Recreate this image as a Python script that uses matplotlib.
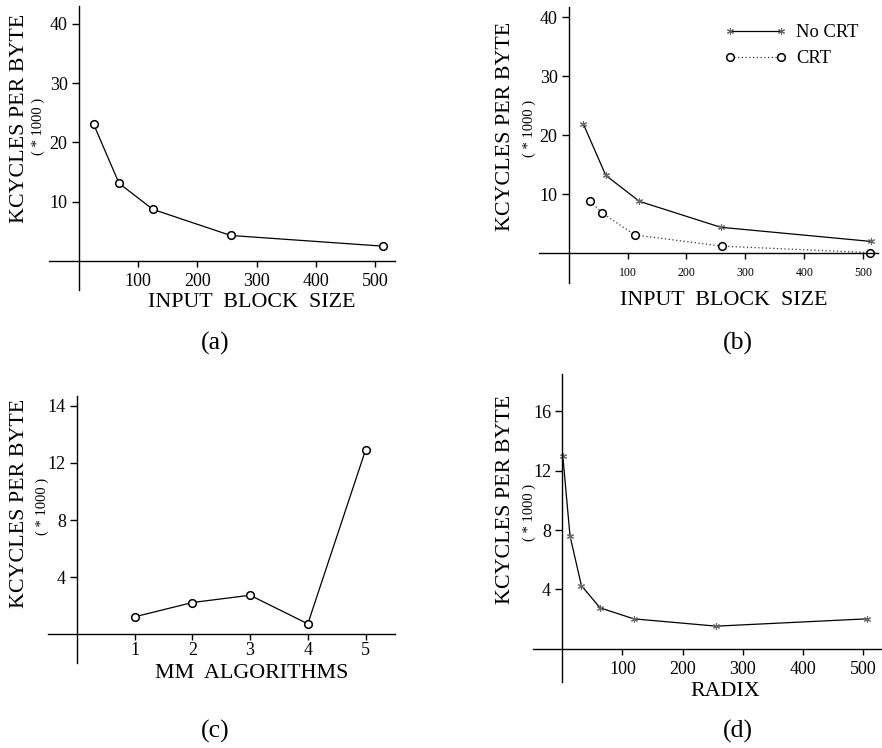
import matplotlib
matplotlib.use("Agg")
import matplotlib.pyplot as plt

plt.rcParams["font.family"] = ["Liberation Serif", "DejaVu Serif"]

W, H = 882, 748

# (a) input block size vs kcycles/byte
a_x = [25, 68, 125, 256, 512]
a_y = [23.1, 13.1, 8.7, 4.3, 2.5]

# (b) no CRT vs CRT
b_x_nocrt = [25, 63, 120, 258, 513]
b_y_nocrt = [21.9, 13.2, 8.8, 4.4, 2.0]
b_x_crt = [37, 56, 112, 260, 511]
b_y_crt = [8.8, 6.9, 3.1, 1.2, 0.1]

# (c) MM algorithms
c_x = [1, 2, 3, 4, 5]
c_y = [1.23, 2.23, 2.74, 0.74, 12.9]

# (d) radix
d_x = [1, 13, 32, 63, 119, 256, 506]
d_y = [13.0, 7.6, 4.25, 2.76, 2.02, 1.53, 2.02]

TICK_FS = 13
LABEL_FS = 15.8
SMALL_FS = 10.5
PANEL_FS = 18.5
STAR = (6, 2, 0)
STAR_COLOR = "#666666"

fig = plt.figure(figsize=(W / 100, H / 100), dpi=100)


def make_axes(left, right, top, bottom, xlim, ylim):
    ax = fig.add_axes([left / W, 1 - bottom / H, (right - left) / W, (bottom - top) / H])
    ax.set_xlim(*xlim)
    ax.set_ylim(*ylim)
    ax.patch.set_visible(False)
    for s in ["top", "right"]:
        ax.spines[s].set_visible(False)
    ax.spines["left"].set_position(("data", 0))
    ax.spines["bottom"].set_position(("data", 0))
    for s in ["left", "bottom"]:
        ax.spines[s].set_linewidth(1.0)
    ax.tick_params(axis="y", direction="out", length=5, width=1, pad=3, labelsize=TICK_FS)
    ax.tick_params(axis="x", direction="out", length=4, width=1, pad=5, labelsize=TICK_FS)
    return ax


def ylabel(x, y, x2, y2):
    fig.text(x / W, 1 - y / H, "KCYCLES PER BYTE", rotation=90, fontsize=LABEL_FS,
             ha="center", va="center")
    fig.text(x2 / W, 1 - y2 / H, "( * 1000 )", rotation=90, fontsize=SMALL_FS,
             ha="center", va="center")


def text_at(x, y, s, fs=LABEL_FS):
    fig.text(x / W, 1 - y / H, s, fontsize=fs, ha="center", va="center")


# ---- (a)
ax = make_axes(49, 395, 6, 290, (-50, 533), (-4.9, 43.0))
ax.plot(a_x, a_y, color="black", lw=0.9, marker="o", ms=5.5, mfc="white", mec="black", mew=1.1)
ax.set_xticks([100, 200, 300, 400, 500])
ax.set_yticks([10, 20, 30, 40])
ylabel(20, 118, 38, 126)
text_at(252, 303, "INPUT  BLOCK  SIZE")
text_at(215, 343, "(a)", PANEL_FS)

# ---- (b)
ax = make_axes(538.7, 878, 6.7, 282.7, (-50.8, 525), (-5.0, 41.8))
ax.plot(b_x_nocrt, b_y_nocrt, color="black", lw=0.9, marker=STAR, ms=5, mec=STAR_COLOR, mew=0.8,
        label="No CRT")
ax.plot(b_x_crt, b_y_crt, color="#333333", lw=0.9, ls=(0, (1, 2)), marker="o", ms=5.5, mfc="white",
        mec="black", mew=1.1, label="CRT")
ax.set_xticks([100, 200, 300, 400, 500])
ax.set_yticks([10, 20, 30, 40])
ax.tick_params(axis="x", labelsize=8.5, pad=6)
ax.legend(loc="upper left", bbox_to_anchor=(724 / W, 1 - 24 / H), bbox_transform=fig.transFigure,
          frameon=False, fontsize=13.3, numpoints=2, handlelength=3.4, handletextpad=0.5,
          labelspacing=0.5, borderpad=0, borderaxespad=0)
ylabel(506, 126, 529, 128)
text_at(724, 301, "INPUT  BLOCK  SIZE")
text_at(738, 343, "(b)", PANEL_FS)

# ---- (c)
ax = make_axes(48, 395, 395.7, 663, (-0.5, 5.51), (-2.0, 16.7))
ax.plot(c_x, c_y, color="black", lw=0.9, marker="o", ms=5.5, mfc="white", mec="black", mew=1.1)
ax.set_xticks(c_x)
ax.set_yticks([4, 8, 12, 16])
ax.set_yticklabels(["4", "8", "12", "14"])
ax.tick_params(axis="x", pad=1.5)
ylabel(20, 503, 42, 506)
text_at(252, 673, "MM  ALGORITHMS")
text_at(215, 731, "(c)", PANEL_FS)

# ---- (d)
ax = make_axes(532.7, 881.7, 374, 682.3, (-49, 531), (-2.25, 18.5))
ax.plot(d_x, d_y, color="black", lw=0.9, marker=STAR, ms=5, mec=STAR_COLOR, mew=0.8)
ax.set_xticks([100, 200, 300, 400, 500])
ax.set_yticks([4, 8, 12, 16])
ylabel(506, 499, 529, 512)
text_at(725, 692, "RADIX")
text_at(738, 731, "(d)", PANEL_FS)

fig.savefig("out.png", dpi=100)
